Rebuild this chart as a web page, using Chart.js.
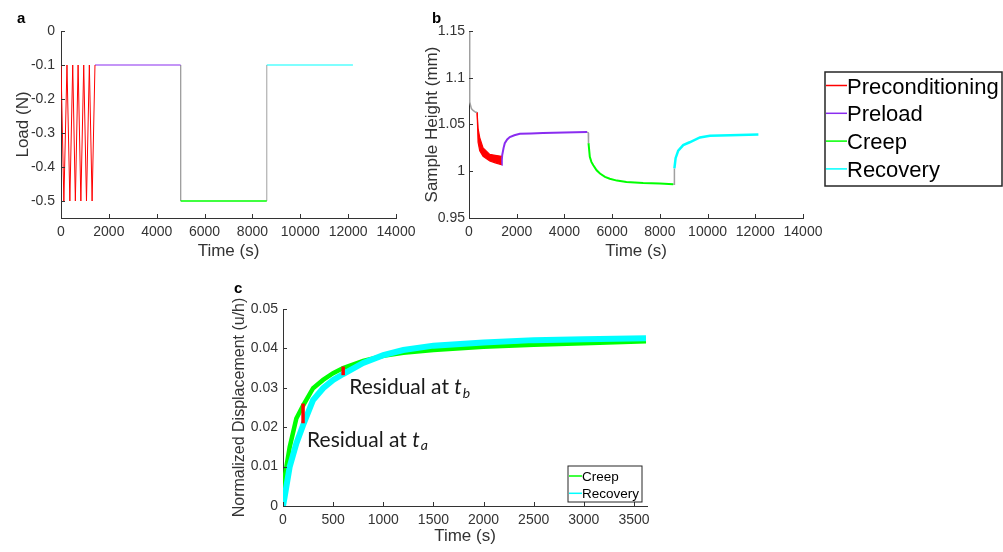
<!DOCTYPE html>
<html>
<head>
<meta charset="utf-8">
<title>Load, sample height and normalized displacement</title>
<script src="https://cdn.jsdelivr.net/npm/chart.js@4.4.1/dist/chart.umd.min.js"></script>
<style>
  html, body { margin: 0; padding: 0; background: #fff; }
  #page { position: relative; width: 1003px; height: 552px; overflow: hidden; }
  #page canvas { position: absolute; }
  .panel { position: absolute; font: bold 15px "Liberation Sans", Arial, sans-serif; line-height: 1; color: #000; }
</style>
</head>
<body>
<div id="page">
  <canvas id="loadChart" width="430" height="270" style="left:0;top:0"></canvas>
  <canvas id="heightChart" width="593" height="270" style="left:410px;top:0"></canvas>
  <canvas id="dispChart" width="460" height="282" style="left:220px;top:270px"></canvas>
  <div class="panel" style="left:17px;top:10px">a</div>
  <div class="panel" style="left:432px;top:10px">b</div>
  <div class="panel" style="left:234px;top:280px">c</div>
</div>
<script>
// ---------- data ----------
const phaseNames = ['Preconditioning', 'Preload', 'Creep', 'Recovery'];

// panel a : load protocol
const precondTime = [0, 120, 250, 370, 490, 600, 715, 830, 950, 1065, 1185, 1300, 1420];
const precondLoad = [-0.1, -0.5, -0.1, -0.5, -0.1, -0.5, -0.1, -0.5, -0.1, -0.5, -0.1, -0.5, -0.1];
const preloadTime = [1420, 5000];
const preloadLoad = [-0.1, -0.1];
const creepStepTime = [5000, 8600];
const creepLoad = [-0.5, -0.5];
const recoveryStepTime = [8600, 12200];
const recoveryLoad = [-0.1, -0.1];
const loadDownTime = [5000, 5000];
const loadDown = [-0.1, -0.5];
const loadUpTime = [8600, 8600];
const loadUp = [-0.5, -0.1];

// panel b : sample height
const settleTime = [5, 25, 35, 100, 170, 280, 340];
const settleHeight = [1.15, 1.10, 1.074, 1.067, 1.065, 1.063, 1.063];
const precondBandTime = [340, 380, 450, 590, 870, 1100, 1360];
const precondUpper = [1.063, 1.046, 1.036, 1.025, 1.018, 1.017, 1.016];
const precondLower = [1.063, 1.031, 1.022, 1.016, 1.011, 1.009, 1.007];
const preloadHTime = [1360, 1375, 1390, 1450, 1500, 1600, 1710, 1900, 2130, 2600, 3100, 4000, 4950];
const preloadHeight = [1.007, 1.012, 1.017, 1.025, 1.030, 1.034, 1.0365, 1.0385, 1.040, 1.0405, 1.041, 1.0415, 1.042];
const dropTime = [4950, 5000, 5010];
const dropHeight = [1.042, 1.041, 1.030];
const creepHTime = [5010, 5064, 5130, 5210, 5350, 5490, 5700, 5900, 6200, 6600, 7300, 8000, 8560];
const creepHeight = [1.030, 1.0154, 1.010, 1.0064, 1.001, 0.9975, 0.994, 0.992, 0.990, 0.9885, 0.9875, 0.987, 0.986];
const riseTime = [8560, 8600, 8610];
const riseHeight = [0.986, 0.986, 1.003];
const recoveryHTime = [8610, 8660, 8770, 8980, 9250, 9680, 10100, 10940, 12130];
const recoveryHeight = [1.003, 1.014, 1.022, 1.028, 1.031, 1.0362, 1.0379, 1.0386, 1.0394];

// panel c : normalized displacement
const normTime = [0, 17, 67, 133, 200, 300, 400, 500, 600, 800, 1000, 1200, 1500, 2000, 2500, 3000, 3620];
const creepDisp = [0, 0.0074, 0.015, 0.0222, 0.0255, 0.0299, 0.032, 0.0337, 0.035, 0.0368, 0.0381, 0.0389, 0.0396, 0.0404, 0.0409, 0.0413, 0.0418];
const recoveryDisp = [0, 0.0024, 0.010, 0.0159, 0.0205, 0.0269, 0.0299, 0.032, 0.0335, 0.0363, 0.0383, 0.0396, 0.0407, 0.0415, 0.0421, 0.0423, 0.0426];
const residualTime = [200, 600];
const residualLow = [0.021, 0.0332];
const residualHigh = [0.026, 0.0354];

// tick labels
const timeTicks = [0, 2000, 4000, 6000, 8000, 10000, 12000, 14000];
const loadTicks = [-0.5, -0.4, -0.3, -0.2, -0.1, 0];
const heightTicks = [0.95, 1, 1.05, 1.1, 1.15];
const normTimeTicks = [0, 500, 1000, 1500, 2000, 2500, 3000, 3500];
const dispTicks = [0, 0.01, 0.02, 0.03, 0.04, 0.05];

// ---------- styles ----------
const RED = '#ff0000', PURPLE = '#8a2cf0', GREEN = '#00ff00', CYAN = '#00ffff', GRAY = '#a0a0a0';
const axisColor = '#333';
const FONT = '"Liberation Sans", Arial, sans-serif';

Chart.defaults.font.family = FONT;
Chart.defaults.color = '#333';
Chart.defaults.animation = false;

function pts(xs, ys) {
  return xs.map((x, i) => ({ x: x, y: ys[i] }));
}

function series(label, xs, ys, color, width, extra) {
  return Object.assign({
    label: label,
    data: pts(xs, ys),
    borderColor: color,
    backgroundColor: color,
    borderWidth: width,
    pointRadius: 0,
    tension: 0,
    fill: false
  }, extra || {});
}

function fmt(v) {
  return String(+Number(v).toFixed(4));
}

// axes builder - sizes are fixed so the plot boxes land where the figure has them
function axes(o) {
  return {
    x: {
      type: 'linear', min: o.xMin, max: o.xMax,
      afterBuildTicks: s => { s.ticks = o.xTicks.map(v => ({ value: v })); },
      afterFit: s => { s.height = o.xH; },
      grid: { display: false, drawTicks: false },
      border: { display: true, color: axisColor, width: 1 },
      ticks: { padding: o.xPad, font: { size: o.tickSize }, color: '#333', callback: fmt, maxRotation: 0, autoSkip: false },
      title: { display: true, text: 'Time (s)', font: { size: 17 }, color: '#333', padding: { top: 0, bottom: o.xTitlePad } }
    },
    y: {
      type: 'linear', min: o.yMin, max: o.yMax,
      afterBuildTicks: s => { s.ticks = o.yTicks.map(v => ({ value: v })); },
      afterFit: s => { s.width = o.yW; },
      grid: { display: false, drawTicks: false },
      border: { display: true, color: axisColor, width: 1 },
      ticks: { padding: o.yPad, font: { size: o.tickSize }, color: '#333', callback: fmt, autoSkip: false },
      title: { display: true, text: o.yTitle, font: { size: o.yTitleSize || 17 }, color: '#333', padding: { top: o.yTitlePad, bottom: 0 } }
    }
  };
}

// MATLAB style inward tick marks
const inwardTicks = {
  id: 'inwardTicks',
  afterDraw(chart) {
    const { ctx, chartArea, scales } = chart;
    ctx.save();
    ctx.strokeStyle = axisColor;
    ctx.lineWidth = 1;
    ctx.beginPath();
    scales.x.ticks.forEach(t => {
      const px = Math.round(scales.x.getPixelForValue(t.value)) + 0.5;
      ctx.moveTo(px, chartArea.bottom);
      ctx.lineTo(px, chartArea.bottom - 4);
    });
    scales.y.ticks.forEach(t => {
      const py = Math.round(scales.y.getPixelForValue(t.value)) + 0.5;
      ctx.moveTo(chartArea.left, py);
      ctx.lineTo(chartArea.left + 4, py);
    });
    ctx.stroke();
    ctx.restore();
  }
};

// boxed legend with line samples
function boxLegend(cfg) {
  return {
    id: 'boxLegend',
    afterDraw(chart) {
      const ctx = chart.ctx;
      ctx.save();
      ctx.fillStyle = '#fff';
      ctx.fillRect(cfg.left, cfg.top, cfg.width, cfg.height);
      ctx.strokeStyle = '#262626';
      ctx.lineWidth = cfg.border;
      ctx.strokeRect(cfg.left, cfg.top, cfg.width, cfg.height);
      ctx.font = cfg.fontSize + 'px ' + FONT;
      ctx.textBaseline = 'middle';
      cfg.names.forEach((name, i) => {
        const y = cfg.firstRow + i * cfg.rowGap;
        ctx.strokeStyle = cfg.colors[i];
        ctx.lineWidth = 1.5;
        ctx.beginPath();
        ctx.moveTo(cfg.left + 1, y);
        ctx.lineTo(cfg.left + 1 + cfg.lineLen, y);
        ctx.stroke();
        ctx.fillStyle = '#000';
        ctx.fillText(name, cfg.left + 1 + cfg.lineLen, y + cfg.textDy);
      });
      ctx.restore();
    }
  };
}

// "Residual at t_a / t_b" notes
const residualNotes = {
  id: 'residualNotes',
  afterDatasetsDraw(chart) {
    const { ctx, scales: { x, y } } = chart;
    const notes = [{ t: 660, d: 0.0302, sub: 'b' }, { t: 240, d: 0.0168, sub: 'a' }];
    ctx.save();
    ctx.fillStyle = '#1a1a1a';
    ctx.textBaseline = 'middle';
    notes.forEach(n => {
      let px = x.getPixelForValue(n.t);
      const py = y.getPixelForValue(n.d);
      ctx.font = '21px Lato, ' + FONT;
      const main = 'Residual at ';
      ctx.fillText(main, px, py);
      px += ctx.measureText(main).width;
      ctx.font = 'italic 21px Lato, ' + FONT;
      ctx.fillText('t', px, py);
      px += ctx.measureText('t').width + 1;
      ctx.font = 'italic 14px Lato, ' + FONT;
      ctx.fillText(n.sub, px, py + 6);
    });
    ctx.restore();
  }
};

// ---------- panel a ----------
new Chart(document.getElementById('loadChart'), {
  type: 'line',
  data: {
    datasets: [
      series(phaseNames[0], precondTime, precondLoad, RED, 1),
      series(phaseNames[1], preloadTime, preloadLoad, PURPLE, 1.2),
      series(phaseNames[2], creepStepTime, creepLoad, GREEN, 1.5),
      series(phaseNames[3], recoveryStepTime, recoveryLoad, CYAN, 1.2),
      series('step', loadDownTime, loadDown, GRAY, 1),
      series('step', loadUpTime, loadUp, GRAY, 1)
    ]
  },
  options: {
    responsive: false,
    layout: { padding: { left: 0, top: 31, right: 34, bottom: 0 } },
    plugins: { legend: { display: false }, tooltip: { enabled: false } },
    scales: axes({
      xMin: 0, xMax: 14000, xTicks: timeTicks, xH: 52, xPad: 6, xTitlePad: 8,
      yMin: -0.55, yMax: 0, yTicks: loadTicks, yW: 61, yPad: 6, yTitlePad: 13,
      yTitle: 'Load (N)', tickSize: 14
    })
  },
  plugins: [inwardTicks]
});

// ---------- panel b ----------
new Chart(document.getElementById('heightChart'), {
  type: 'line',
  data: {
    datasets: [
      series('settle', settleTime, settleHeight, GRAY, 1.5),
      series(phaseNames[0], precondBandTime, precondUpper, RED, 1.2),
      series(phaseNames[0] + ' low', precondBandTime, precondLower, RED, 1.2, { fill: '-1' }),
      series(phaseNames[1], preloadHTime, preloadHeight, PURPLE, 2),
      series('step', dropTime, dropHeight, GRAY, 1.5),
      series(phaseNames[2], creepHTime, creepHeight, GREEN, 2),
      series('step', riseTime, riseHeight, GRAY, 1.5),
      series(phaseNames[3], recoveryHTime, recoveryHeight, CYAN, 2.5)
    ]
  },
  options: {
    responsive: false,
    layout: { padding: { left: 0, top: 31, right: 200, bottom: 0 } },
    plugins: { legend: { display: false }, tooltip: { enabled: false } },
    scales: axes({
      xMin: 0, xMax: 14000, xTicks: timeTicks, xH: 52, xPad: 6, xTitlePad: 8,
      yMin: 0.95, yMax: 1.15, yTicks: heightTicks, yW: 59, yPad: 4, yTitlePad: 12,
      yTitle: 'Sample Height (mm)', tickSize: 14
    })
  },
  plugins: [inwardTicks, boxLegend({
    names: phaseNames, colors: [RED, PURPLE, GREEN, CYAN],
    left: 415, top: 72, width: 177, height: 114, border: 1.5,
    firstRow: 85.5, rowGap: 27.8, lineLen: 21, fontSize: 22, textDy: 2
  })]
});

// ---------- panel c ----------
new Chart(document.getElementById('dispChart'), {
  type: 'line',
  data: {
    datasets: [
      series('Residual a', [residualTime[0], residualTime[0]], [residualLow[0], residualHigh[0]], RED, 3.5, { order: 0 }),
      series('Residual b', [residualTime[1], residualTime[1]], [residualLow[1], residualHigh[1]], RED, 3.5, { order: 0 }),
      series('Recovery', normTime, recoveryDisp, CYAN, 6, { order: 1 }),
      series('Creep', normTime, creepDisp, GREEN, 4.5, { order: 2 })
    ]
  },
  options: {
    responsive: false,
    layout: { padding: { left: 0, top: 39, right: 33, bottom: 0 } },
    plugins: { legend: { display: false }, tooltip: { enabled: false } },
    scales: axes({
      xMin: 0, xMax: 3630, xTicks: normTimeTicks, xH: 46, xPad: 6, xTitlePad: 5,
      yMin: 0, yMax: 0.05, yTicks: dispTicks, yW: 63, yPad: 5, yTitlePad: 10, yTitleSize: 16,
      yTitle: 'Normalized Displacement (u/h)', tickSize: 14
    })
  },
  plugins: [inwardTicks, residualNotes, boxLegend({
    names: ['Creep', 'Recovery'], colors: [GREEN, CYAN],
    left: 348, top: 196, width: 74, height: 36, border: 1,
    firstRow: 206, rowGap: 17.3, lineLen: 13, fontSize: 13.5, textDy: 1
  })]
});
</script>
</body>
</html>
